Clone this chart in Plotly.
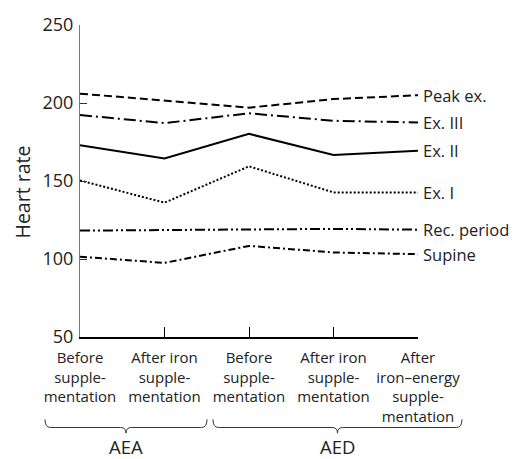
import plotly.graph_objects as go

# Heart rate by stage of supplementation, one line per measurement condition
stages = [
    "Before<br>supple-<br>mentation",
    "After iron<br>supple-<br>mentation",
    "Before<br>supple-<br>mentation",
    "After iron<br>supple-<br>mentation",
    "After<br>iron\u2013energy<br>supple-<br>mentation",
]
series_names = ["Peak ex.", "Ex. III", "Ex. II", "Ex. I", "Rec. period", "Supine"]
peak_ex = [206, 201.5, 197, 202.5, 205]
ex_iii = [192.3, 187.1, 193.4, 188.6, 187.5]
ex_ii = [172.9, 164.4, 180.2, 166.7, 169.4]
ex_i = [150.4, 136.1, 159.4, 142.7, 142.7]
rec_period = [118.2, 118.6, 118.6, 119.3, 118.8]
supine = [101.5, 97.5, 108.4, 104.2, 103.1]

y_ticks = [50, 100, 150, 200, 250]
groups = ["AEA", "AED"]
# first/last stage index covered by each group
group_spans = [(0, 1), (2, 4)]

values = [peak_ex, ex_iii, ex_ii, ex_i, rec_period, supine]
dashes = [
    "8px,4px",
    "12px,4px,2px,4px",
    "solid",
    "2px,2px",
    "10px,3px,2px,3px,2px,3px",
    "7px,3px,2px,3px",
]

FONT = "Open Sans"
x_idx = list(range(len(stages)))

fig = go.Figure()
for name, vals, dash in zip(series_names, values, dashes):
    fig.add_trace(go.Scatter(
        x=x_idx, y=vals, mode="lines", name=name,
        line=dict(color="black", width=2, dash=dash),
        showlegend=False,
    ))
    # series name at the right end of each line
    fig.add_annotation(
        x=x_idx[-1], y=vals[-1], xref="x", yref="y",
        text=name, showarrow=False, xanchor="left", yanchor="middle",
        xshift=3, font=dict(family=FONT, size=16.5, color="#222"),
    )

n = len(stages) - 1


def to_paper(i):
    return i / n


# curly braces grouping the stages
y_top, y_mid, y_tip = -0.264, -0.29, -0.308
r = 0.016
for (a, b), label, (pl, pr) in zip(group_spans, groups, [(0.414, 0.503), (0.426, 0.52)]):
    xa = to_paper(a - pl)
    xb = to_paper(b + pr)
    xm = (xa + xb) / 2
    path = (
        f"M {xa},{y_top} Q {xa},{y_mid} {xa + r},{y_mid} "
        f"L {xm - r},{y_mid} Q {xm},{y_mid} {xm},{y_tip} "
        f"Q {xm},{y_mid} {xm + r},{y_mid} "
        f"L {xb - r},{y_mid} Q {xb},{y_mid} {xb},{y_top}"
    )
    fig.add_shape(type="path", path=path, xref="paper", yref="paper",
                  line=dict(color="#333", width=1))
    fig.add_annotation(
        x=xm, y=-0.35, xref="paper", yref="paper", text=label,
        showarrow=False, xanchor="center", yanchor="middle",
        font=dict(family=FONT, size=18.5, color="#222"),
    )

# y axis title
fig.add_annotation(
    x=-0.17, y=0.465, xref="paper", yref="paper", text="Heart rate",
    textangle=-90, showarrow=False, xanchor="center", yanchor="middle",
    font=dict(family=FONT, size=19.5, color="#222"),
)

fig.update_xaxes(
    range=[0, n], tickmode="array", tickvals=x_idx, ticktext=stages,
    ticks="inside", ticklen=10, tickwidth=1.3, tickcolor="black",
    ticklabelstandoff=6,
    showline=True, linecolor="black", linewidth=2,
    showgrid=False, zeroline=False, fixedrange=True,
    tickfont=dict(family=FONT, size=15, color="#222"),
)
fig.update_yaxes(
    range=[50, 250], tickmode="array", tickvals=y_ticks,
    ticks="inside", ticklen=7, tickwidth=1.2, tickcolor="#333",
    ticklabelstandoff=2,
    showline=True, linecolor="#777", linewidth=1.2,
    showgrid=False, zeroline=False, fixedrange=True,
    tickfont=dict(family=FONT, size=18, color="#222"),
)
fig.update_layout(
    width=518, height=459,
    margin=dict(l=80, r=100, t=17, b=122),
    paper_bgcolor="white", plot_bgcolor="white",
    showlegend=False,
)
fig.write_html("out.html")
